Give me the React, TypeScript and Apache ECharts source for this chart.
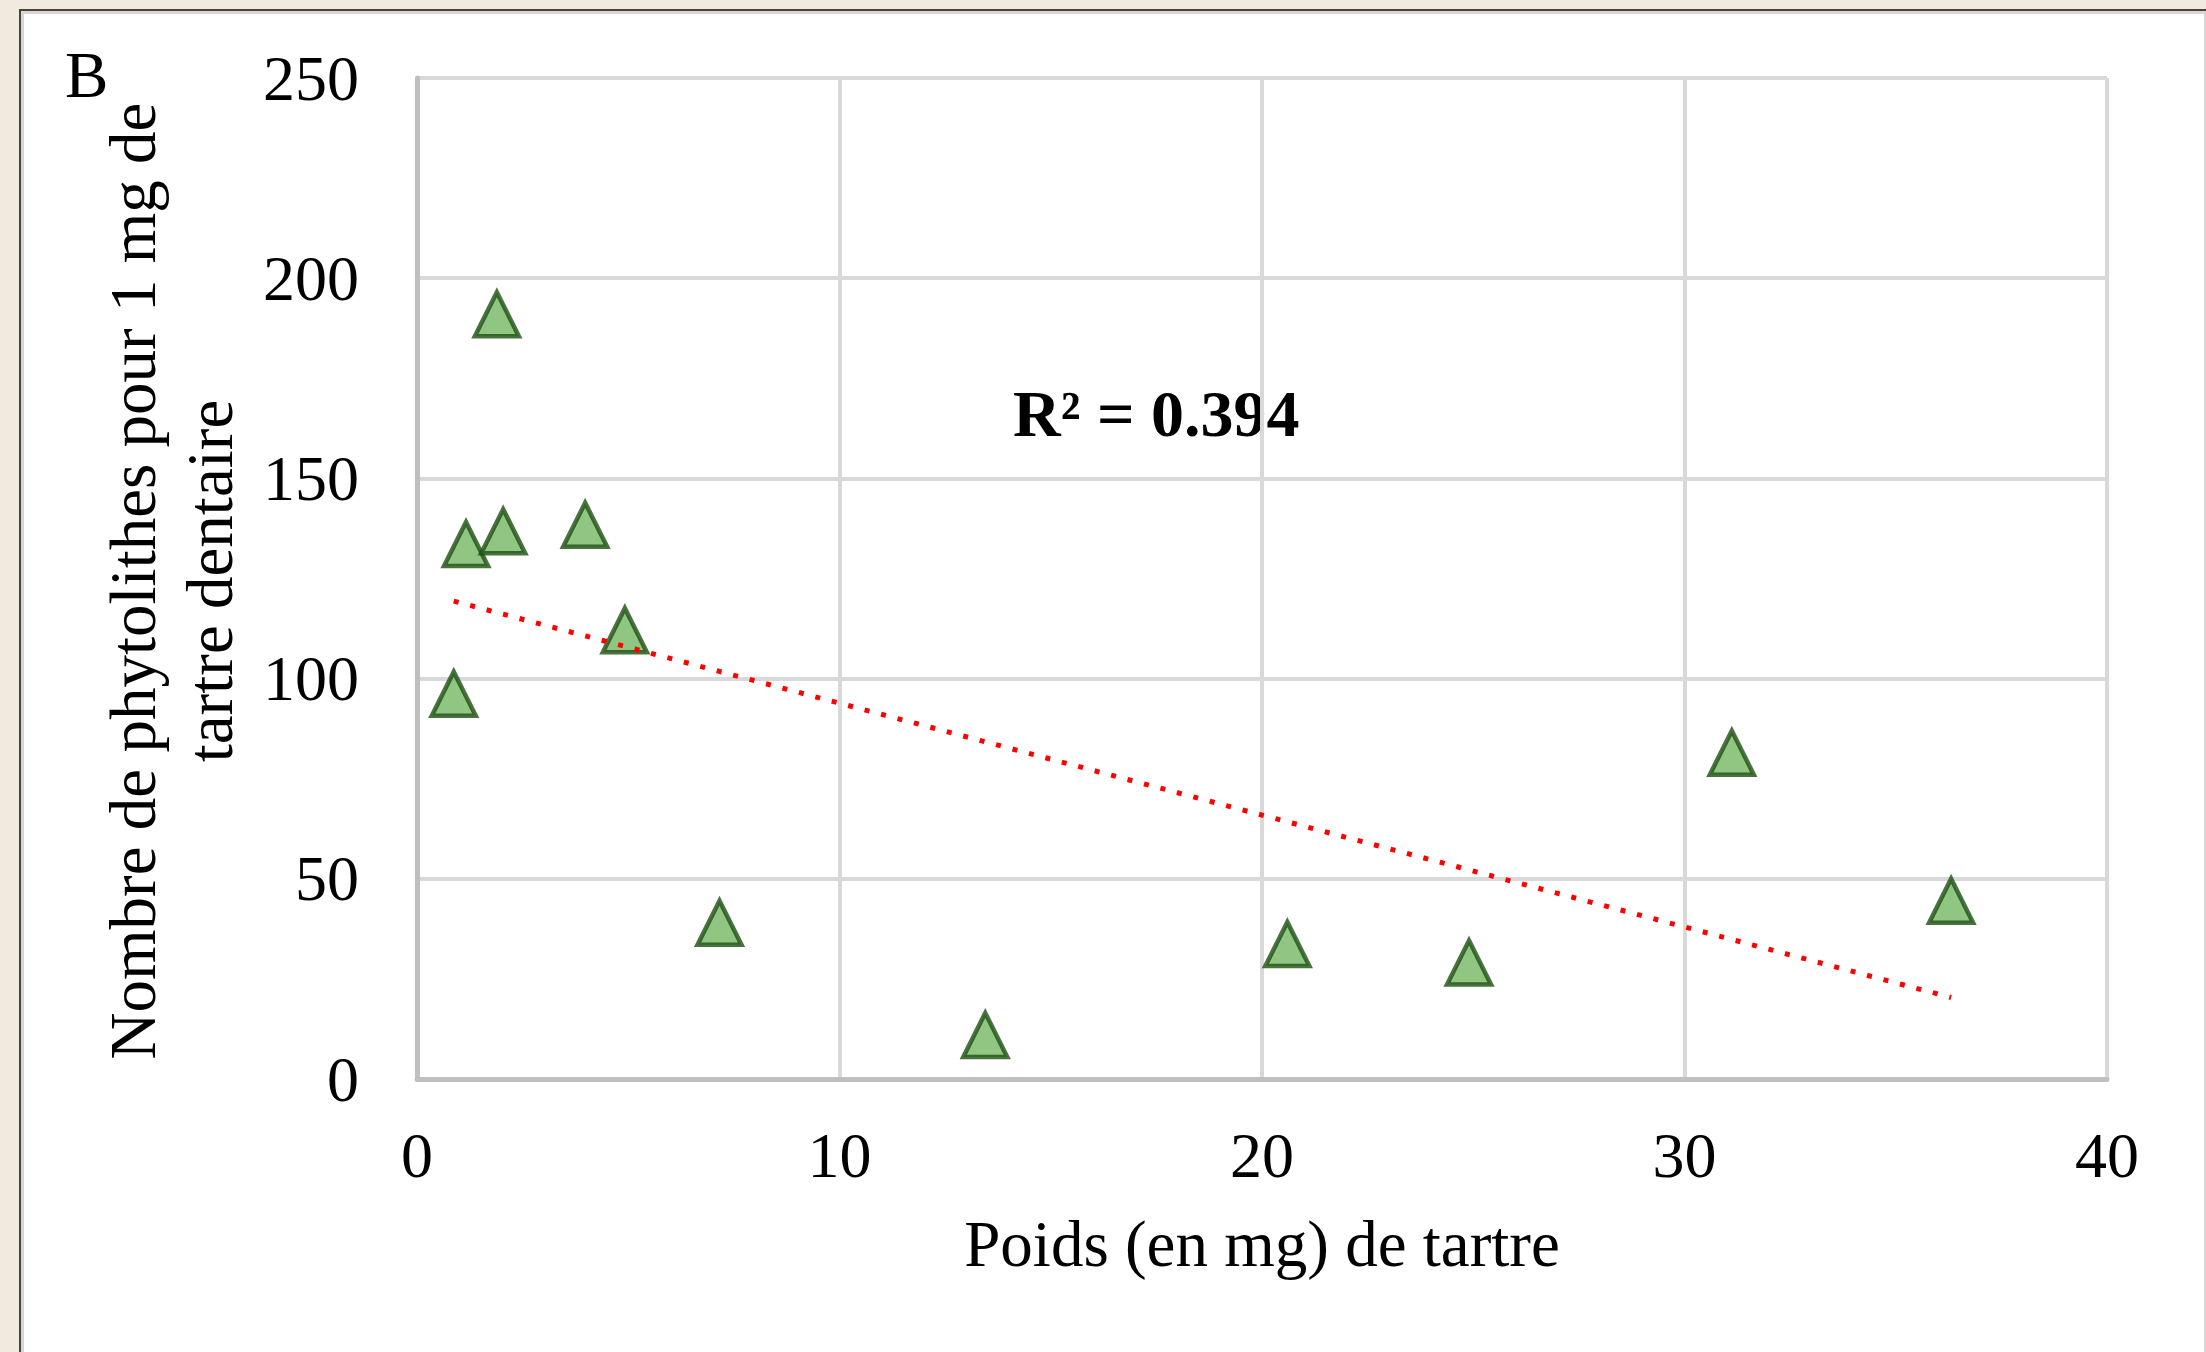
import React, { useEffect, useRef } from "react";
import * as echarts from "echarts";

// Data
const weightMg = [1.89, 1.16, 2.04, 3.98, 4.92, 0.87, 7.16, 13.45, 20.6, 24.9, 31.12, 36.31];
const phytolithsPerMg = [191, 133.6, 136.8, 138.4, 112.1, 96.2, 39, 11, 33.7, 29.1, 81.5, 44.5];

const xTickLabels = ["0", "10", "20", "30", "40"];
const yTickLabels = ["0", "50", "100", "150", "200", "250"];

const panelLetter = "B";
const rSquaredLabel = "R² = 0.394";
const xTitle = "Poids (en mg) de tartre";
const yTitleLines = ["Nombre de phytolithes pour 1 mg de", "tartre dentaire"];

const FONT = "'Liberation Serif', 'Times New Roman', serif";

function linearFit(xs: number[], ys: number[]) {
  const n = xs.length;
  const mx = xs.reduce((a, b) => a + b, 0) / n;
  const my = ys.reduce((a, b) => a + b, 0) / n;
  let sxy = 0;
  let sxx = 0;
  for (let i = 0; i < n; i++) {
    sxy += (xs[i] - mx) * (ys[i] - my);
    sxx += (xs[i] - mx) * (xs[i] - mx);
  }
  const slope = sxy / sxx;
  return { slope, intercept: my - slope * mx };
}

export default function App() {
  const ref = useRef<HTMLDivElement>(null);

  useEffect(() => {
    if (!ref.current) return;
    const chart = echarts.init(ref.current, null, { renderer: "svg", width: 2206, height: 1352 });

    const fit = linearFit(weightMg, phytolithsPerMg);
    const xMin = Math.min(...weightMg);
    const xMax = Math.max(...weightMg);
    const trend = [
      [xMin, fit.intercept + fit.slope * xMin],
      [xMax, fit.intercept + fit.slope * xMax],
    ];

    const xMaxTick = Number(xTickLabels[xTickLabels.length - 1]);
    const xInterval = Number(xTickLabels[1]) - Number(xTickLabels[0]);
    const yMaxTick = Number(yTickLabels[yTickLabels.length - 1]);
    const yInterval = Number(yTickLabels[1]) - Number(yTickLabels[0]);

    chart.setOption({
      animation: false,
      backgroundColor: "transparent",
      grid: { left: 417, top: 78, right: 99, bottom: 273, containLabel: false },
      xAxis: {
        type: "value",
        min: 0,
        max: xMaxTick,
        interval: xInterval,
        axisLine: { show: true, lineStyle: { color: "#BFBFBF", width: 5 } },
        axisTick: { show: false },
        splitLine: { show: true, lineStyle: { color: "#D9D9D9", width: 4 } },
        axisLabel: {
          color: "#000",
          fontFamily: FONT,
          fontSize: 64,
          margin: 76,
          verticalAlign: "middle",
        },
      },
      yAxis: {
        type: "value",
        min: 0,
        max: yMaxTick,
        interval: yInterval,
        axisLine: { show: true, lineStyle: { color: "#BFBFBF", width: 5 } },
        axisTick: { show: false },
        splitLine: { show: true, lineStyle: { color: "#D9D9D9", width: 4 } },
        axisLabel: {
          color: "#000",
          fontFamily: FONT,
          fontSize: 64,
          margin: 58,
          align: "right",
          padding: [0, 0, 6, 0],
        },
      },
      series: [
        {
          type: "scatter",
          data: weightMg.map((x, i) => [x, phytolithsPerMg[i]]),
          symbol: "triangle",
          symbolSize: [44, 44],
          itemStyle: { color: "#74B763", borderColor: "#1D4F12", borderWidth: 4.5 },
          z: 2,
        },
        {
          type: "line",
          data: trend,
          symbol: "none",
          lineStyle: { color: "#FF0000", width: 5, type: [5, 12], cap: "butt" },
          z: 3,
        },
      ],
      graphic: [
        {
          type: "text",
          x: 65,
          y: 75,
          style: { text: panelLetter, font: `65px ${FONT}`, fill: "#000", textAlign: "left", textVerticalAlign: "middle" },
        },
        {
          type: "text",
          x: 1013,
          y: 413,
          style: { text: rSquaredLabel, font: `bold 66px ${FONT}`, fill: "#000", textAlign: "left", textVerticalAlign: "middle" },
        },
        {
          type: "text",
          x: 1262,
          y: 1244,
          style: { text: xTitle, font: `65px ${FONT}`, fill: "#000", textAlign: "center", textVerticalAlign: "middle" },
        },
        {
          type: "text",
          x: 133,
          y: 581,
          rotation: Math.PI / 2,
          style: { text: yTitleLines[0], font: `65px ${FONT}`, fill: "#000", textAlign: "center", textVerticalAlign: "middle" },
        },
        {
          type: "text",
          x: 210,
          y: 581,
          rotation: Math.PI / 2,
          style: { text: yTitleLines[1], font: `65px ${FONT}`, fill: "#000", textAlign: "center", textVerticalAlign: "middle" },
        },
      ],
    });

    return () => {
      chart.dispose();
    };
  }, []);

  return (
    <div style={{ position: "fixed", left: 0, top: 0, width: 2206, height: 1352, background: "#F1EADF", overflow: "hidden" }}>
      <div
        style={{
          position: "absolute",
          left: 19,
          top: 9,
          width: 2187,
          height: 1343,
          boxSizing: "border-box",
          background: "#FFFFFF",
          borderLeft: "2px solid #4C4236",
          borderTop: "2px solid #4C4236",
        }}
      >
        <div
          style={{
            position: "absolute",
            left: 0,
            top: 0,
            right: 0,
            bottom: 0,
            boxSizing: "border-box",
            borderLeft: "3px solid #D6D6D6",
            borderTop: "3px solid #D6D6D6",
            borderRight: "2px solid #D6D6D6",
          }}
        />
      </div>
      <div ref={ref} style={{ position: "absolute", left: 0, top: 0, width: 2206, height: 1352 }} />
    </div>
  );
}
